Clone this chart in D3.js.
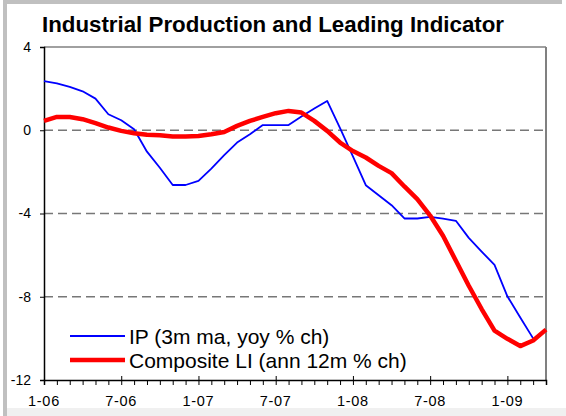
<!DOCTYPE html>
<html>
<head>
<meta charset="utf-8">
<script src="https://cdn.jsdelivr.net/npm/d3@7"></script>
<style>
  body { margin: 0; background: #fff; }
  svg { display: block; font-family: Arial, "Liberation Sans", sans-serif; }
</style>
</head>
<body>
<div id="chart"></div>
<script>
// Monthly categories, Jan 2006 .. Apr 2009
const months = [
  "1-06","2-06","3-06","4-06","5-06","6-06","7-06","8-06","9-06","10-06","11-06","12-06",
  "1-07","2-07","3-07","4-07","5-07","6-07","7-07","8-07","9-07","10-07","11-07","12-07",
  "1-08","2-08","3-08","4-08","5-08","6-08","7-08","8-08","9-08","10-08","11-08","12-08",
  "1-09","2-09","3-09","4-09"
];
const tickLabels = ["1-06", "7-06", "1-07", "7-07", "1-08", "7-08", "1-09"];
const yTicks = [4, 0, -4, -8, -12];
const gridValues = [0, -4, -8];

// IP (3m ma, yoy % ch) - ends Mar 09
const ipValues = [
  2.36, 2.25, 2.08, 1.87, 1.52, 0.77, 0.48, 0.05, -1.03, -1.8, -2.63, -2.63,
  -2.43, -1.84, -1.2, -0.59, -0.19, 0.25, 0.25, 0.25, 0.66, 1.04, 1.41, 0.1,
  -1.25, -2.64, -3.12, -3.6, -4.24, -4.24, -4.16, -4.25, -4.35, -5.17, -5.83, -6.47,
  -7.98, -9.0, -10.0
];
// Composite LI (ann 12m % ch)
const liValues = [
  0.45, 0.64, 0.64, 0.53, 0.34, 0.13, -0.03, -0.14, -0.22, -0.24, -0.3, -0.3,
  -0.28, -0.19, -0.08, 0.21, 0.45, 0.64, 0.82, 0.93, 0.85, 0.45, -0.03, -0.59,
  -1.0, -1.31, -1.71, -2.06, -2.7, -3.31, -4.1, -5.07, -6.27, -7.47, -8.59, -9.63,
  -10.02, -10.37, -10.1, -9.58
];

const series = [
  { name: "IP (3m ma, yoy % ch)", values: ipValues, color: "#0000ff", width: 1.8 },
  { name: "Composite LI (ann 12m % ch)", values: liValues, color: "#ff0000", width: 4.5 }
];

const W = 566, H = 416;
const svg = d3.select("#chart").append("svg").attr("width", W).attr("height", H);

// outer frame
svg.append("rect").attr("x", 0).attr("y", 0).attr("width", W).attr("height", H).attr("fill", "#fff");
svg.append("rect").attr("x", 3).attr("y", 0).attr("width", 559).attr("height", 4).attr("fill", "#c0c0c0");
svg.append("rect").attr("x", 3).attr("y", 0).attr("width", 4).attr("height", H).attr("fill", "#c0c0c0");
svg.append("rect").attr("x", 7).attr("y", 408).attr("width", W - 7).attr("height", 8).attr("fill", "#f0f0f0");

const x = d3.scaleLinear().domain([0, months.length - 1]).range([44, 546]);
const y = d3.scaleLinear().domain([-12, 4]).range([380, 47]);

// title
svg.append("text")
  .attr("x", 273).attr("y", 32)
  .attr("text-anchor", "middle")
  .attr("font-size", 22.3).attr("font-weight", "bold")
  .text("Industrial Production and Leading Indicator");

// plot border (top, right)
svg.append("line").attr("x1", x(0)).attr("x2", x.range()[1]).attr("y1", y(4)).attr("y2", y(4))
  .attr("stroke", "#808080").attr("stroke-width", 1.5);
svg.append("line").attr("x1", x.range()[1]).attr("x2", x.range()[1]).attr("y1", y(4)).attr("y2", y(-12))
  .attr("stroke", "#808080").attr("stroke-width", 2);

// dashed gridlines
svg.append("g").selectAll("line").data(gridValues).enter().append("line")
  .attr("x1", x(0)).attr("x2", x.range()[1])
  .attr("y1", d => y(d)).attr("y2", d => y(d))
  .attr("stroke", "#777").attr("stroke-width", 1.5).attr("stroke-dasharray", "9,5");

// y axis
const yAxis = svg.append("g").attr("transform", `translate(${x(0)},0)`)
  .call(d3.axisLeft(y).tickValues(yTicks).tickFormat(d => String(d).replace("\u2212", "-")).tickSize(4).tickPadding(9));
yAxis.select(".domain").attr("stroke", "#000").attr("stroke-width", 1.5);
yAxis.selectAll("text").attr("font-size", 14).attr("fill", "#000").attr("font-family", null);
yAxis.selectAll(".tick line").attr("stroke", "#000");

// x axis: minor ticks every month, major (crossing) ticks every 6 months
const xAxis = svg.append("g").attr("transform", `translate(0,${y(-12)})`)
  .call(d3.axisBottom(x).tickValues(d3.range(months.length)).tickSize(5).tickFormat(""));
xAxis.select(".domain").attr("stroke", "#000").attr("stroke-width", 1.5);
xAxis.selectAll(".tick line").attr("stroke", "#000");
const labelIdx = tickLabels.map(l => months.indexOf(l));
xAxis.selectAll(".tick").filter(d => labelIdx.includes(d)).select("line").attr("y1", -4);
svg.append("g").selectAll("text").data(tickLabels).enter().append("text")
  .attr("x", d => x(months.indexOf(d)))
  .attr("y", 406)
  .attr("text-anchor", "middle")
  .attr("font-size", 14.5)
  .attr("letter-spacing", 0.7)
  .text(d => d);

// lines
const line = d3.line().x((d, i) => x(i)).y(d => y(d));
series.forEach(s => {
  svg.append("path").datum(s.values)
    .attr("fill", "none").attr("stroke", s.color).attr("stroke-width", s.width)
    .attr("stroke-linejoin", "round").attr("d", line);
});

// legend
const legend = svg.append("g").selectAll("g").data(series).enter().append("g")
  .attr("transform", (d, i) => `translate(70,${336 + i * 24})`);
legend.append("line").attr("x1", 0).attr("x2", 55).attr("y1", 0).attr("y2", 0)
  .attr("stroke", d => d.color).attr("stroke-width", d => d.width);
legend.append("text").attr("x", 59).attr("y", 7.5).attr("font-size", 21).text(d => d.name);
</script>
</body>
</html>
